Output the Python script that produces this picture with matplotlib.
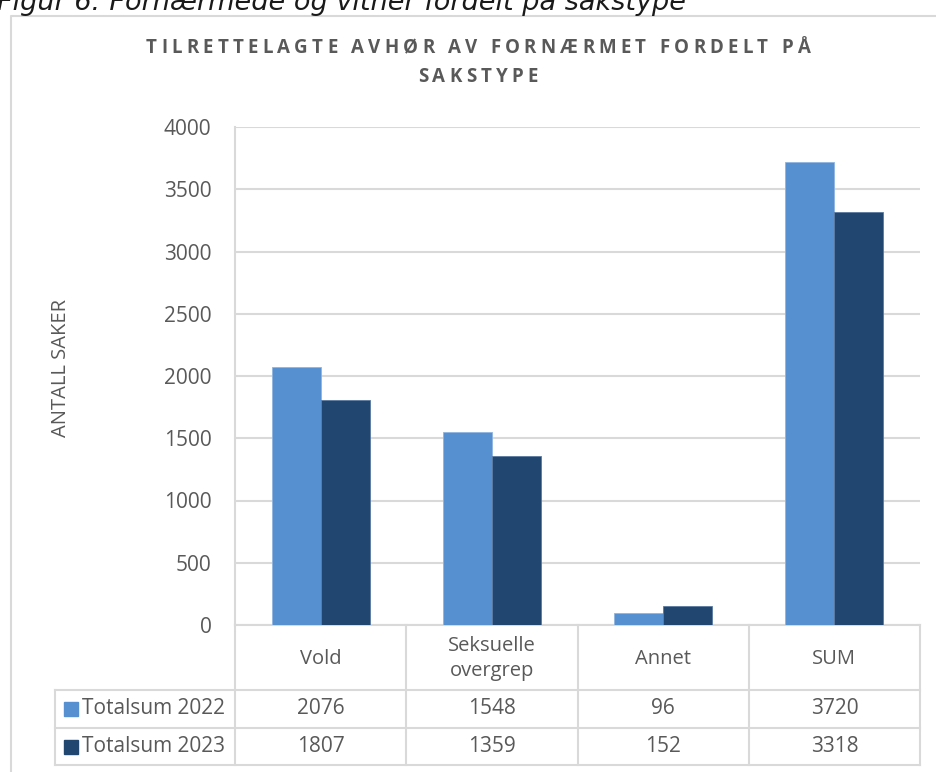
import matplotlib.pyplot as plt
import numpy as np
from matplotlib.font_manager import FontProperties

# Data
categories = ['Vold', 'Seksuelle\novergrep', 'Annet', 'SUM']
series_names = ['Totalsum 2022', 'Totalsum 2023']
totals_2022 = [2076, 1548, 96, 3720]
totals_2023 = [1807, 1359, 152, 3318]
y_ticks = [0, 500, 1000, 1500, 2000, 2500, 3000, 3500, 4000]

title_lines = ['TILRETTELAGTE AVHØR AV FORNÆRMET FORDELT PÅ', 'SAKSTYPE']
caption = 'Figur 6: Fornærmede og vitner fordelt på sakstype'
y_label = 'ANTALL SAKER'

colors = ['#5690D0', '#21466F']
text_gray = '#595959'
line_gray = '#D9D9D9'
font = ['Open Sans', 'DejaVu Sans']

W, H = 936, 772
fig = plt.figure(figsize=(W / 100, H / 100), dpi=100)

# pixel layout of the plot area
plot_l, plot_r, plot_t, plot_b = 235, 920, 127, 625
ax = fig.add_axes([plot_l / W, 1 - plot_b / H, (plot_r - plot_l) / W, (plot_b - plot_t) / H])
ax.set_facecolor('none')

# background axes in pixel coords for border, table and titles
bg = fig.add_axes([0, 0, 1, 1], zorder=-1)
bg.set_xlim(0, W)
bg.set_ylim(H, 0)
bg.axis('off')

x = np.arange(len(categories))
w = 0.286
ax.bar(x - w / 2, totals_2022, w, color=colors[0], edgecolor='#8fb4e0', linewidth=0.6, zorder=3)
ax.bar(x + w / 2, totals_2023, w, color=colors[1], edgecolor='#5a7aa0', linewidth=0.6, zorder=3)
ax.set_xlim(-0.5, len(categories) - 0.5)
ax.set_ylim(0, 4000)
ax.set_yticks(y_ticks)
ax.set_yticklabels([str(t) for t in y_ticks], family=font, fontsize=15, color=text_gray)
ax.tick_params(axis='y', length=0, pad=17)
ax.set_xticks([])
ax.grid(axis='y', color=line_gray, linewidth=1.5, zorder=0)
for s in ['top', 'right']:
    ax.spines[s].set_visible(False)
for s in ['left', 'bottom']:
    ax.spines[s].set_color(line_gray)
    ax.spines[s].set_linewidth(1.5)

# y-axis label
bg.text(61, 368, y_label, rotation=90, ha='center', va='center',
        family=font, fontsize=14.5, color=text_gray)

# outer chart border (only left and top visible)
bg.plot([10.5, 10.5, W + 5], [H + 5, 16, 16], color=line_gray, lw=1.5)

# caption cut at top
bg.text(-3, 10, caption, ha='left', va='baseline', family='DejaVu Sans',
        style='italic', fontsize=19.5, color='#1a1a1a')


# title with letter spacing
title_fp = FontProperties(family=font, weight='bold', size=13.5)
renderer = fig.canvas.get_renderer()


def char_widths(s):
    return [renderer.get_text_width_height_descent(c, title_fp, ismath=False)[0] for c in s]


def spaced_text(cx, cy, s, gap):
    widths = char_widths(s)
    total = sum(widths) + gap * (len(s) - 1)
    px = cx - total / 2
    for c, cw in zip(s, widths):
        bg.text(px, cy, c, ha='left', va='center', fontproperties=title_fp, color=text_gray)
        px += cw + gap


line1_w = sum(char_widths(title_lines[0]))
gap = (664 - line1_w) / (len(title_lines[0]) - 1)
spaced_text(478, 48, title_lines[0], gap)
spaced_text(478, 77, title_lines[1], gap)

# data table
slot = (plot_r - plot_l) / len(categories)
col_edges = [plot_l + i * slot for i in range(len(categories) + 1)]
legend_l = 55
row_edges = [plot_b, 690, 728, 765]

for xe in col_edges:
    bg.plot([xe, xe], [plot_b, row_edges[-1]], color=line_gray, lw=1.5)
bg.plot([legend_l, legend_l], [row_edges[1], row_edges[-1]], color=line_gray, lw=1.5)
for ye in row_edges[1:]:
    bg.plot([legend_l, plot_r], [ye, ye], color=line_gray, lw=1.5)

for i, cat in enumerate(categories):
    cx = (col_edges[i] + col_edges[i + 1]) / 2
    bg.text(cx, (row_edges[0] + row_edges[1]) / 2 + 1, cat, ha='center', va='center',
            family=font, fontsize=14.5, color=text_gray, linespacing=1.3)

for j, (name, vals) in enumerate(zip(series_names, [totals_2022, totals_2023])):
    cy = (row_edges[j + 1] + row_edges[j + 2]) / 2
    bg.add_patch(plt.Rectangle((64, cy - 7), 14, 14, color=colors[j]))
    bg.text(82, cy, name, ha='left', va='center', family=font, fontsize=15, color=text_gray)
    for i, v in enumerate(vals):
        cx = (col_edges[i] + col_edges[i + 1]) / 2
        bg.text(cx, cy, str(v), ha='center', va='center', family=font,
                fontsize=15, color=text_gray)

fig.savefig('out.png', dpi=100, facecolor='white')
